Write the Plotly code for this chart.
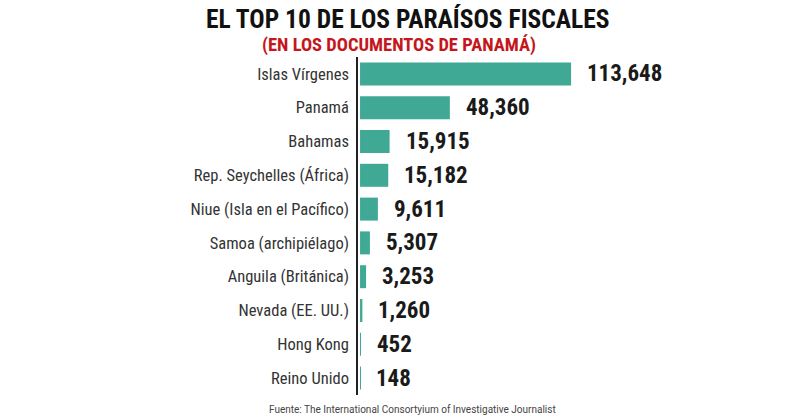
import plotly.graph_objects as go

categories = ["Islas Vírgenes", "Panamá", "Bahamas", "Rep. Seychelles (África)",
              "Niue (Isla en el Pacífico)", "Samoa (archipiélago)", "Anguila (Británica)",
              "Nevada (EE. UU.)", "Hong Kong", "Reino Unido"]
values = [113648, 48360, 15915, 15182, 9611, 5307, 3253, 1260, 452, 148]
value_labels = ["113,648", "48,360", "15,915", "15,182", "9,611", "5,307",
                "3,253", "1,260", "452", "148"]

title = "EL TOP 10 DE LOS PARAÍSOS FISCALES"
subtitle = "(EN LOS DOCUMENTOS DE PANAMÁ)"
source = "Fuente: The International Consortyium of Investigative Journalist"

BAR = "#3fa995"
NARROW = "Liberation Sans Narrow, Roboto Condensed, Roboto, sans-serif"

# plot area in figure pixels
L, R, T, B = 358, 780, 57, 395


def px(xp):
    return (xp - L) / (R - L)


def py(yp):
    return (B - yp) / (B - T)


fig = go.Figure()
fig.add_trace(go.Bar(
    x=values, y=categories, orientation="h",
    marker=dict(color=BAR, line=dict(width=0)),
    width=0.68, hoverinfo="skip",
))

fig.update_layout(
    width=800, height=420,
    margin=dict(l=L, r=800 - R, t=T, b=420 - B),
    paper_bgcolor="white", plot_bgcolor="white",
    showlegend=False,
    xaxis=dict(range=[-1100, 226150], visible=False, fixedrange=True),
    yaxis=dict(autorange="reversed", showline=True, linecolor="#222", linewidth=1.5,
               showgrid=False, zeroline=False, ticks="", ticklabelstandoff=4,
               tickfont=dict(family=NARROW, size=16.5, color="#333"), fixedrange=True),
)

for v, c, t in zip(values, categories, value_labels):
    fig.add_annotation(x=v, y=c, text=f"<b>{t}</b>", showarrow=False,
                       xanchor="left", yanchor="middle", xshift=14,
                       font=dict(family=NARROW, size=23, color="#1a1a1a"))

fig.add_annotation(x=px(408), y=py(19), xref="paper", yref="paper",
                   text=f"<b>{title}</b>", showarrow=False, xanchor="center", yanchor="middle",
                   font=dict(family=NARROW, size=25.5, color="#111"))
fig.add_annotation(x=px(399), y=py(45), xref="paper", yref="paper",
                   text=f"<b>{subtitle}</b>", showarrow=False, xanchor="center", yanchor="middle",
                   font=dict(family=NARROW, size=18.5, color="#c4161c"))
fig.add_annotation(x=px(412), y=py(409), xref="paper", yref="paper",
                   text=source, showarrow=False, xanchor="center", yanchor="middle",
                   font=dict(family="Roboto, sans-serif", size=10, color="#444"))

fig.write_html("out.html")
